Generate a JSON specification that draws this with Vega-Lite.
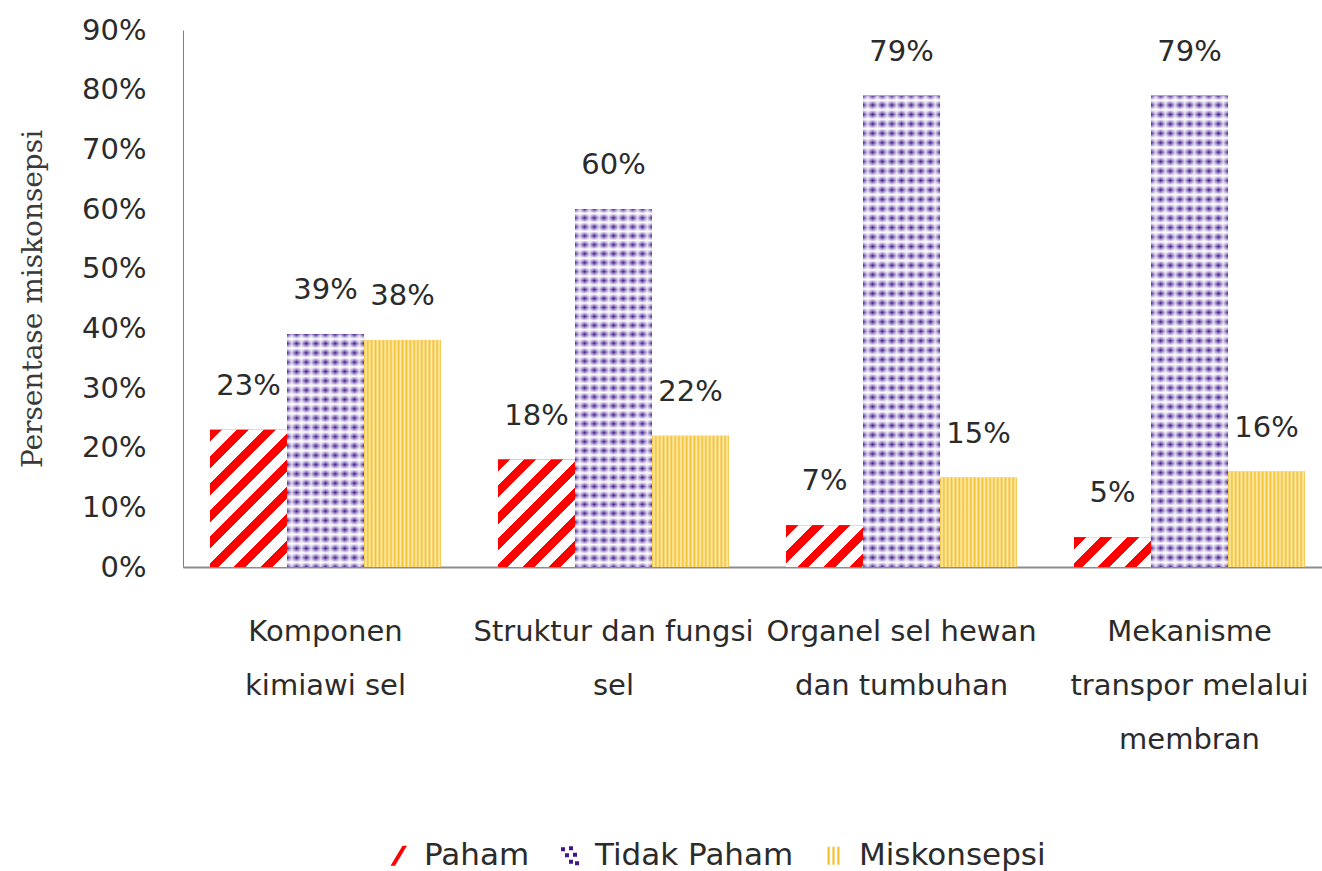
{
  "$schema": "https://vega.github.io/schema/vega-lite/v6.json",
  "width": 1139,
  "height": 537,
  "autosize": {"type": "none"},
  "padding": {"left": 183, "top": 30, "right": 0, "bottom": 304},
  "background": "white",
  "config": {"view": {"stroke": null}, "font": "DejaVu Sans"},
  "data": {"values": [
    {"kategori": "Komponen kimiawi sel", "status": "Paham", "nilai": 0.23},
    {"kategori": "Komponen kimiawi sel", "status": "Tidak Paham", "nilai": 0.39},
    {"kategori": "Komponen kimiawi sel", "status": "Miskonsepsi", "nilai": 0.38},
    {"kategori": "Struktur dan fungsi sel", "status": "Paham", "nilai": 0.18},
    {"kategori": "Struktur dan fungsi sel", "status": "Tidak Paham", "nilai": 0.60},
    {"kategori": "Struktur dan fungsi sel", "status": "Miskonsepsi", "nilai": 0.22},
    {"kategori": "Organel sel hewan dan tumbuhan", "status": "Paham", "nilai": 0.07},
    {"kategori": "Organel sel hewan dan tumbuhan", "status": "Tidak Paham", "nilai": 0.79},
    {"kategori": "Organel sel hewan dan tumbuhan", "status": "Miskonsepsi", "nilai": 0.15},
    {"kategori": "Mekanisme transpor melalui membran", "status": "Paham", "nilai": 0.05},
    {"kategori": "Mekanisme transpor melalui membran", "status": "Tidak Paham", "nilai": 0.79},
    {"kategori": "Mekanisme transpor melalui membran", "status": "Miskonsepsi", "nilai": 0.16}
  ]},
  "encoding": {
    "x": {
      "field": "kategori", "type": "nominal",
      "sort": ["Komponen kimiawi sel", "Struktur dan fungsi sel", "Organel sel hewan dan tumbuhan", "Mekanisme transpor melalui membran"],
      "scale": {"domain": ["Komponen kimiawi sel", "Struktur dan fungsi sel", "Organel sel hewan dan tumbuhan", "Mekanisme transpor melalui membran"], "paddingInner": 0.198, "paddingOuter": 0.0764, "align": 0.614},
      "axis": {
        "title": null, "ticks": false, "domainColor": "#8c8c8c", "domainWidth": 2,
        "labelFont": "DejaVu Sans", "labelFontSize": 29, "labelColor": "#2b2b2b",
        "labelPadding": 50, "labelLineHeight": 54, "labelLimit": 0, "labelOverlap": false, "labelBound": false, "labelAngle": 0,
        "labelExpr": "datum.label === 'Komponen kimiawi sel' ? ['Komponen', 'kimiawi sel'] : datum.label === 'Struktur dan fungsi sel' ? ['Struktur dan fungsi', 'sel'] : datum.label === 'Organel sel hewan dan tumbuhan' ? ['Organel sel hewan', 'dan tumbuhan'] : ['Mekanisme', 'transpor melalui', 'membran']"
      }
    },
    "xOffset": {"field": "status", "type": "nominal", "sort": ["Paham", "Tidak Paham", "Miskonsepsi"], "scale": {"domain": ["Paham", "Tidak Paham", "Miskonsepsi"]}},
    "y": {
      "field": "nilai", "type": "quantitative",
      "scale": {"domain": [0, 0.9], "nice": false},
      "axis": {
        "values": [0, 0.1, 0.2, 0.3, 0.4, 0.5, 0.6, 0.7, 0.8, 0.9], "format": ".0%",
        "grid": false, "ticks": false, "domainColor": "#7f7f7f", "domainWidth": 1,
        "labelFont": "DejaVu Sans", "labelFontSize": 29, "labelColor": "#2b2b2b", "labelPadding": 37,
        "title": "Persentase miskonsepsi", "titleFont": "DejaVu Serif", "titleFontSize": 28, "titleFontWeight": "normal", "titleColor": "#3a3a3a",
        "titleX": -150, "titleY": 268.5, "titleAngle": -90, "titleAlign": "center", "titleBaseline": "middle"
      }
    }
  },
  "layer": [
    {
      "mark": {"type": "bar"},
      "encoding": {
        "color": {
          "field": "status", "type": "nominal",
          "scale": {"domain": ["Paham", "Tidak Paham", "Miskonsepsi"], "range": ["#ff0000", "#40168f", "#f5c030"]},
          "legend": {
            "title": null, "orient": "none", "direction": "horizontal", "legendX": 200, "legendY": 810,
            "padding": 0, "columnPadding": 24, "labelOffset": 10, "symbolSize": 400, "symbolStrokeWidth": 0,
            "labelFont": "DejaVu Sans", "labelFontSize": 31, "labelColor": "#2b2b2b", "labelLimit": 0,
            "encode": {"symbols": {"update": {"shape": {"signal": "datum.value === 'Paham' ? 'M-0.8,1L0.4,-1L0.85,-1L-0.35,1Z' : datum.value === 'Tidak Paham' ? 'M-0.85,-0.85h0.4v0.4h-0.4Z M-0.05,-0.95h0.4v0.4h-0.4Z M-0.45,-0.25h0.4v0.4h-0.4Z M0.35,-0.3h0.4v0.4h-0.4Z M-0.05,0.4h0.4v0.4h-0.4Z M0.55,0.55h0.4v0.4h-0.4Z' : 'M-0.6,-0.9h0.22v1.8h-0.22Z M-0.11,-0.9h0.22v1.8h-0.22Z M0.38,-0.9h0.22v1.8h-0.22Z'"}}}}
          }
        }
      }
    },
    {
      "transform": [{"filter": "datum.status === 'Paham' && datum.kategori === 'Komponen kimiawi sel'"}],
      "mark": {"type": "bar", "color": {"gradient": "linear", "x1": 0, "y1": 0, "x2": 0.6662, "y2": 1.1873, "stops": [
        {"offset": 0, "color": "#ff0000"}, {"offset": 0.05625, "color": "#ff0000"}, {"offset": 0.05625, "color": "#ffffff"}, {"offset": 0.125, "color": "#ffffff"},
        {"offset": 0.125, "color": "#ff0000"}, {"offset": 0.18125, "color": "#ff0000"}, {"offset": 0.18125, "color": "#ffffff"}, {"offset": 0.25, "color": "#ffffff"},
        {"offset": 0.25, "color": "#ff0000"}, {"offset": 0.30625, "color": "#ff0000"}, {"offset": 0.30625, "color": "#ffffff"}, {"offset": 0.375, "color": "#ffffff"},
        {"offset": 0.375, "color": "#ff0000"}, {"offset": 0.43125, "color": "#ff0000"}, {"offset": 0.43125, "color": "#ffffff"}, {"offset": 0.5, "color": "#ffffff"},
        {"offset": 0.5, "color": "#ff0000"}, {"offset": 0.55625, "color": "#ff0000"}, {"offset": 0.55625, "color": "#ffffff"}, {"offset": 0.625, "color": "#ffffff"},
        {"offset": 0.625, "color": "#ff0000"}, {"offset": 0.68125, "color": "#ff0000"}, {"offset": 0.68125, "color": "#ffffff"}, {"offset": 0.75, "color": "#ffffff"},
        {"offset": 0.75, "color": "#ff0000"}, {"offset": 0.80625, "color": "#ff0000"}, {"offset": 0.80625, "color": "#ffffff"}, {"offset": 0.875, "color": "#ffffff"},
        {"offset": 0.875, "color": "#ff0000"}, {"offset": 0.93125, "color": "#ff0000"}, {"offset": 0.93125, "color": "#ffffff"}, {"offset": 1, "color": "#ffffff"}
      ]}}
    },
    {
      "transform": [{"filter": "datum.status === 'Paham' && datum.kategori === 'Struktur dan fungsi sel'"}],
      "mark": {"type": "bar", "color": {"gradient": "linear", "x1": 0, "y1": 0, "x2": 0.8130, "y2": 1.1340, "stops": [
        {"offset": 0, "color": "#ff0000"}, {"offset": 0.0643, "color": "#ff0000"}, {"offset": 0.0643, "color": "#ffffff"}, {"offset": 0.1429, "color": "#ffffff"},
        {"offset": 0.1429, "color": "#ff0000"}, {"offset": 0.2071, "color": "#ff0000"}, {"offset": 0.2071, "color": "#ffffff"}, {"offset": 0.2857, "color": "#ffffff"},
        {"offset": 0.2857, "color": "#ff0000"}, {"offset": 0.35, "color": "#ff0000"}, {"offset": 0.35, "color": "#ffffff"}, {"offset": 0.4286, "color": "#ffffff"},
        {"offset": 0.4286, "color": "#ff0000"}, {"offset": 0.4929, "color": "#ff0000"}, {"offset": 0.4929, "color": "#ffffff"}, {"offset": 0.5714, "color": "#ffffff"},
        {"offset": 0.5714, "color": "#ff0000"}, {"offset": 0.6357, "color": "#ff0000"}, {"offset": 0.6357, "color": "#ffffff"}, {"offset": 0.7143, "color": "#ffffff"},
        {"offset": 0.7143, "color": "#ff0000"}, {"offset": 0.7786, "color": "#ff0000"}, {"offset": 0.7786, "color": "#ffffff"}, {"offset": 0.8571, "color": "#ffffff"},
        {"offset": 0.8571, "color": "#ff0000"}, {"offset": 0.9214, "color": "#ff0000"}, {"offset": 0.9214, "color": "#ffffff"}, {"offset": 1, "color": "#ffffff"}
      ]}}
    },
    {
      "transform": [{"filter": "datum.status === 'Paham' && datum.kategori === 'Organel sel hewan dan tumbuhan'"}],
      "mark": {"type": "bar", "color": {"gradient": "linear", "x1": 0, "y1": 0, "x2": 1.1917, "y2": 0.6465, "stops": [
        {"offset": 0, "color": "#ff0000"}, {"offset": 0.1, "color": "#ff0000"}, {"offset": 0.1, "color": "#ffffff"}, {"offset": 0.2222, "color": "#ffffff"},
        {"offset": 0.2222, "color": "#ff0000"}, {"offset": 0.3222, "color": "#ff0000"}, {"offset": 0.3222, "color": "#ffffff"}, {"offset": 0.4444, "color": "#ffffff"},
        {"offset": 0.4444, "color": "#ff0000"}, {"offset": 0.5444, "color": "#ff0000"}, {"offset": 0.5444, "color": "#ffffff"}, {"offset": 0.6667, "color": "#ffffff"},
        {"offset": 0.6667, "color": "#ff0000"}, {"offset": 0.7667, "color": "#ff0000"}, {"offset": 0.7667, "color": "#ffffff"}, {"offset": 0.8889, "color": "#ffffff"},
        {"offset": 0.8889, "color": "#ff0000"}, {"offset": 0.9889, "color": "#ff0000"}, {"offset": 0.9889, "color": "#ffffff"}, {"offset": 1, "color": "#ffffff"}
      ]}}
    },
    {
      "transform": [{"filter": "datum.status === 'Paham' && datum.kategori === 'Mekanisme transpor melalui membran'"}],
      "mark": {"type": "bar", "color": {"gradient": "linear", "x1": 0, "y1": 0, "x2": 1.2063, "y2": 0.4673, "stops": [
        {"offset": 0, "color": "#ff0000"}, {"offset": 0.1125, "color": "#ff0000"}, {"offset": 0.1125, "color": "#ffffff"}, {"offset": 0.25, "color": "#ffffff"},
        {"offset": 0.25, "color": "#ff0000"}, {"offset": 0.3625, "color": "#ff0000"}, {"offset": 0.3625, "color": "#ffffff"}, {"offset": 0.5, "color": "#ffffff"},
        {"offset": 0.5, "color": "#ff0000"}, {"offset": 0.6125, "color": "#ff0000"}, {"offset": 0.6125, "color": "#ffffff"}, {"offset": 0.75, "color": "#ffffff"},
        {"offset": 0.75, "color": "#ff0000"}, {"offset": 0.8625, "color": "#ff0000"}, {"offset": 0.8625, "color": "#ffffff"}, {"offset": 1, "color": "#ffffff"}
      ]}}
    },
    {
      "transform": [{"filter": "datum.status === 'Tidak Paham' && datum.kategori === 'Komponen kimiawi sel'"}],
      "mark": {"type": "bar", "color": {"gradient": "linear", "x1": 0, "y1": 0, "x2": 0, "y2": 1, "stops": [
        {"offset": 0, "color": "#40168f"}, {"offset": 0.02, "color": "#ffffff"}, {"offset": 0.04, "color": "#40168f"}, {"offset": 0.06, "color": "#ffffff"},
        {"offset": 0.08, "color": "#40168f"}, {"offset": 0.1, "color": "#ffffff"}, {"offset": 0.12, "color": "#40168f"}, {"offset": 0.14, "color": "#ffffff"},
        {"offset": 0.16, "color": "#40168f"}, {"offset": 0.18, "color": "#ffffff"}, {"offset": 0.2, "color": "#40168f"}, {"offset": 0.22, "color": "#ffffff"},
        {"offset": 0.24, "color": "#40168f"}, {"offset": 0.26, "color": "#ffffff"}, {"offset": 0.28, "color": "#40168f"}, {"offset": 0.3, "color": "#ffffff"},
        {"offset": 0.32, "color": "#40168f"}, {"offset": 0.34, "color": "#ffffff"}, {"offset": 0.36, "color": "#40168f"}, {"offset": 0.38, "color": "#ffffff"},
        {"offset": 0.4, "color": "#40168f"}, {"offset": 0.42, "color": "#ffffff"}, {"offset": 0.44, "color": "#40168f"}, {"offset": 0.46, "color": "#ffffff"},
        {"offset": 0.48, "color": "#40168f"}, {"offset": 0.5, "color": "#ffffff"}, {"offset": 0.52, "color": "#40168f"}, {"offset": 0.54, "color": "#ffffff"},
        {"offset": 0.56, "color": "#40168f"}, {"offset": 0.58, "color": "#ffffff"}, {"offset": 0.6, "color": "#40168f"}, {"offset": 0.62, "color": "#ffffff"},
        {"offset": 0.64, "color": "#40168f"}, {"offset": 0.66, "color": "#ffffff"}, {"offset": 0.68, "color": "#40168f"}, {"offset": 0.7, "color": "#ffffff"},
        {"offset": 0.72, "color": "#40168f"}, {"offset": 0.74, "color": "#ffffff"}, {"offset": 0.76, "color": "#40168f"}, {"offset": 0.78, "color": "#ffffff"},
        {"offset": 0.8, "color": "#40168f"}, {"offset": 0.82, "color": "#ffffff"}, {"offset": 0.84, "color": "#40168f"}, {"offset": 0.86, "color": "#ffffff"},
        {"offset": 0.88, "color": "#40168f"}, {"offset": 0.9, "color": "#ffffff"}, {"offset": 0.92, "color": "#40168f"}, {"offset": 0.94, "color": "#ffffff"},
        {"offset": 0.96, "color": "#40168f"}, {"offset": 0.98, "color": "#ffffff"}, {"offset": 1, "color": "#40168f"}
      ]}}
    },
    {
      "transform": [{"filter": "datum.status === 'Tidak Paham' && datum.kategori === 'Struktur dan fungsi sel'"}],
      "mark": {"type": "bar", "color": {"gradient": "linear", "x1": 0, "y1": 0, "x2": 0, "y2": 1, "stops": [
        {"offset": 0, "color": "#40168f"}, {"offset": 0.0125, "color": "#ffffff"}, {"offset": 0.025, "color": "#40168f"}, {"offset": 0.0375, "color": "#ffffff"},
        {"offset": 0.05, "color": "#40168f"}, {"offset": 0.0625, "color": "#ffffff"}, {"offset": 0.075, "color": "#40168f"}, {"offset": 0.0875, "color": "#ffffff"},
        {"offset": 0.1, "color": "#40168f"}, {"offset": 0.1125, "color": "#ffffff"}, {"offset": 0.125, "color": "#40168f"}, {"offset": 0.1375, "color": "#ffffff"},
        {"offset": 0.15, "color": "#40168f"}, {"offset": 0.1625, "color": "#ffffff"}, {"offset": 0.175, "color": "#40168f"}, {"offset": 0.1875, "color": "#ffffff"},
        {"offset": 0.2, "color": "#40168f"}, {"offset": 0.2125, "color": "#ffffff"}, {"offset": 0.225, "color": "#40168f"}, {"offset": 0.2375, "color": "#ffffff"},
        {"offset": 0.25, "color": "#40168f"}, {"offset": 0.2625, "color": "#ffffff"}, {"offset": 0.275, "color": "#40168f"}, {"offset": 0.2875, "color": "#ffffff"},
        {"offset": 0.3, "color": "#40168f"}, {"offset": 0.3125, "color": "#ffffff"}, {"offset": 0.325, "color": "#40168f"}, {"offset": 0.3375, "color": "#ffffff"},
        {"offset": 0.35, "color": "#40168f"}, {"offset": 0.3625, "color": "#ffffff"}, {"offset": 0.375, "color": "#40168f"}, {"offset": 0.3875, "color": "#ffffff"},
        {"offset": 0.4, "color": "#40168f"}, {"offset": 0.4125, "color": "#ffffff"}, {"offset": 0.425, "color": "#40168f"}, {"offset": 0.4375, "color": "#ffffff"},
        {"offset": 0.45, "color": "#40168f"}, {"offset": 0.4625, "color": "#ffffff"}, {"offset": 0.475, "color": "#40168f"}, {"offset": 0.4875, "color": "#ffffff"},
        {"offset": 0.5, "color": "#40168f"}, {"offset": 0.5125, "color": "#ffffff"}, {"offset": 0.525, "color": "#40168f"}, {"offset": 0.5375, "color": "#ffffff"},
        {"offset": 0.55, "color": "#40168f"}, {"offset": 0.5625, "color": "#ffffff"}, {"offset": 0.575, "color": "#40168f"}, {"offset": 0.5875, "color": "#ffffff"},
        {"offset": 0.6, "color": "#40168f"}, {"offset": 0.6125, "color": "#ffffff"}, {"offset": 0.625, "color": "#40168f"}, {"offset": 0.6375, "color": "#ffffff"},
        {"offset": 0.65, "color": "#40168f"}, {"offset": 0.6625, "color": "#ffffff"}, {"offset": 0.675, "color": "#40168f"}, {"offset": 0.6875, "color": "#ffffff"},
        {"offset": 0.7, "color": "#40168f"}, {"offset": 0.7125, "color": "#ffffff"}, {"offset": 0.725, "color": "#40168f"}, {"offset": 0.7375, "color": "#ffffff"},
        {"offset": 0.75, "color": "#40168f"}, {"offset": 0.7625, "color": "#ffffff"}, {"offset": 0.775, "color": "#40168f"}, {"offset": 0.7875, "color": "#ffffff"},
        {"offset": 0.8, "color": "#40168f"}, {"offset": 0.8125, "color": "#ffffff"}, {"offset": 0.825, "color": "#40168f"}, {"offset": 0.8375, "color": "#ffffff"},
        {"offset": 0.85, "color": "#40168f"}, {"offset": 0.8625, "color": "#ffffff"}, {"offset": 0.875, "color": "#40168f"}, {"offset": 0.8875, "color": "#ffffff"},
        {"offset": 0.9, "color": "#40168f"}, {"offset": 0.9125, "color": "#ffffff"}, {"offset": 0.925, "color": "#40168f"}, {"offset": 0.9375, "color": "#ffffff"},
        {"offset": 0.95, "color": "#40168f"}, {"offset": 0.9625, "color": "#ffffff"}, {"offset": 0.975, "color": "#40168f"}, {"offset": 0.9875, "color": "#ffffff"},
        {"offset": 1, "color": "#40168f"}
      ]}}
    },
    {
      "transform": [{"filter": "datum.status === 'Tidak Paham' && (datum.kategori === 'Organel sel hewan dan tumbuhan' || datum.kategori === 'Mekanisme transpor melalui membran')"}],
      "mark": {"type": "bar", "color": {"gradient": "linear", "x1": 0, "y1": 0, "x2": 0, "y2": 1, "stops": [
        {"offset": 0, "color": "#40168f"}, {"offset": 0.01, "color": "#ffffff"}, {"offset": 0.02, "color": "#40168f"}, {"offset": 0.03, "color": "#ffffff"},
        {"offset": 0.04, "color": "#40168f"}, {"offset": 0.05, "color": "#ffffff"}, {"offset": 0.06, "color": "#40168f"}, {"offset": 0.07, "color": "#ffffff"},
        {"offset": 0.08, "color": "#40168f"}, {"offset": 0.09, "color": "#ffffff"}, {"offset": 0.1, "color": "#40168f"}, {"offset": 0.11, "color": "#ffffff"},
        {"offset": 0.12, "color": "#40168f"}, {"offset": 0.13, "color": "#ffffff"}, {"offset": 0.14, "color": "#40168f"}, {"offset": 0.15, "color": "#ffffff"},
        {"offset": 0.16, "color": "#40168f"}, {"offset": 0.17, "color": "#ffffff"}, {"offset": 0.18, "color": "#40168f"}, {"offset": 0.19, "color": "#ffffff"},
        {"offset": 0.2, "color": "#40168f"}, {"offset": 0.21, "color": "#ffffff"}, {"offset": 0.22, "color": "#40168f"}, {"offset": 0.23, "color": "#ffffff"},
        {"offset": 0.24, "color": "#40168f"}, {"offset": 0.25, "color": "#ffffff"}, {"offset": 0.26, "color": "#40168f"}, {"offset": 0.27, "color": "#ffffff"},
        {"offset": 0.28, "color": "#40168f"}, {"offset": 0.29, "color": "#ffffff"}, {"offset": 0.3, "color": "#40168f"}, {"offset": 0.31, "color": "#ffffff"},
        {"offset": 0.32, "color": "#40168f"}, {"offset": 0.33, "color": "#ffffff"}, {"offset": 0.34, "color": "#40168f"}, {"offset": 0.35, "color": "#ffffff"},
        {"offset": 0.36, "color": "#40168f"}, {"offset": 0.37, "color": "#ffffff"}, {"offset": 0.38, "color": "#40168f"}, {"offset": 0.39, "color": "#ffffff"},
        {"offset": 0.4, "color": "#40168f"}, {"offset": 0.41, "color": "#ffffff"}, {"offset": 0.42, "color": "#40168f"}, {"offset": 0.43, "color": "#ffffff"},
        {"offset": 0.44, "color": "#40168f"}, {"offset": 0.45, "color": "#ffffff"}, {"offset": 0.46, "color": "#40168f"}, {"offset": 0.47, "color": "#ffffff"},
        {"offset": 0.48, "color": "#40168f"}, {"offset": 0.49, "color": "#ffffff"}, {"offset": 0.5, "color": "#40168f"}, {"offset": 0.51, "color": "#ffffff"},
        {"offset": 0.52, "color": "#40168f"}, {"offset": 0.53, "color": "#ffffff"}, {"offset": 0.54, "color": "#40168f"}, {"offset": 0.55, "color": "#ffffff"},
        {"offset": 0.56, "color": "#40168f"}, {"offset": 0.57, "color": "#ffffff"}, {"offset": 0.58, "color": "#40168f"}, {"offset": 0.59, "color": "#ffffff"},
        {"offset": 0.6, "color": "#40168f"}, {"offset": 0.61, "color": "#ffffff"}, {"offset": 0.62, "color": "#40168f"}, {"offset": 0.63, "color": "#ffffff"},
        {"offset": 0.64, "color": "#40168f"}, {"offset": 0.65, "color": "#ffffff"}, {"offset": 0.66, "color": "#40168f"}, {"offset": 0.67, "color": "#ffffff"},
        {"offset": 0.68, "color": "#40168f"}, {"offset": 0.69, "color": "#ffffff"}, {"offset": 0.7, "color": "#40168f"}, {"offset": 0.71, "color": "#ffffff"},
        {"offset": 0.72, "color": "#40168f"}, {"offset": 0.73, "color": "#ffffff"}, {"offset": 0.74, "color": "#40168f"}, {"offset": 0.75, "color": "#ffffff"},
        {"offset": 0.76, "color": "#40168f"}, {"offset": 0.77, "color": "#ffffff"}, {"offset": 0.78, "color": "#40168f"}, {"offset": 0.79, "color": "#ffffff"},
        {"offset": 0.8, "color": "#40168f"}, {"offset": 0.81, "color": "#ffffff"}, {"offset": 0.82, "color": "#40168f"}, {"offset": 0.83, "color": "#ffffff"},
        {"offset": 0.84, "color": "#40168f"}, {"offset": 0.85, "color": "#ffffff"}, {"offset": 0.86, "color": "#40168f"}, {"offset": 0.87, "color": "#ffffff"},
        {"offset": 0.88, "color": "#40168f"}, {"offset": 0.89, "color": "#ffffff"}, {"offset": 0.9, "color": "#40168f"}, {"offset": 0.91, "color": "#ffffff"},
        {"offset": 0.92, "color": "#40168f"}, {"offset": 0.93, "color": "#ffffff"}, {"offset": 0.94, "color": "#40168f"}, {"offset": 0.95, "color": "#ffffff"},
        {"offset": 0.96, "color": "#40168f"}, {"offset": 0.97, "color": "#ffffff"}, {"offset": 0.98, "color": "#40168f"}, {"offset": 0.99, "color": "#ffffff"},
        {"offset": 1, "color": "#40168f"}
      ]}}
    },
    {
      "transform": [{"filter": "datum.status === 'Tidak Paham'"}],
      "mark": {"type": "bar", "color": {"gradient": "linear", "x1": 0, "y1": 0, "x2": 1, "y2": 0, "stops": [
        {"offset": 0, "color": "rgba(255,255,255,0)"}, {"offset": 0.0625, "color": "rgba(255,255,255,0.8)"}, {"offset": 0.125, "color": "rgba(255,255,255,0)"}, {"offset": 0.1875, "color": "rgba(255,255,255,0.8)"},
        {"offset": 0.25, "color": "rgba(255,255,255,0)"}, {"offset": 0.3125, "color": "rgba(255,255,255,0.8)"}, {"offset": 0.375, "color": "rgba(255,255,255,0)"}, {"offset": 0.4375, "color": "rgba(255,255,255,0.8)"},
        {"offset": 0.5, "color": "rgba(255,255,255,0)"}, {"offset": 0.5625, "color": "rgba(255,255,255,0.8)"}, {"offset": 0.625, "color": "rgba(255,255,255,0)"}, {"offset": 0.6875, "color": "rgba(255,255,255,0.8)"},
        {"offset": 0.75, "color": "rgba(255,255,255,0)"}, {"offset": 0.8125, "color": "rgba(255,255,255,0.8)"}, {"offset": 0.875, "color": "rgba(255,255,255,0)"}, {"offset": 0.9375, "color": "rgba(255,255,255,0.8)"},
        {"offset": 1, "color": "rgba(255,255,255,0)"}
      ]}}
    },
    {
      "transform": [{"filter": "datum.status === 'Miskonsepsi'"}],
      "mark": {"type": "bar", "color": {"gradient": "linear", "x1": 0, "y1": 0, "x2": 1, "y2": 0, "stops": [
        {"offset": 0, "color": "#f5c030"}, {"offset": 0.025, "color": "#fdeeb8"}, {"offset": 0.05, "color": "#f5c030"}, {"offset": 0.075, "color": "#fdeeb8"},
        {"offset": 0.1, "color": "#f5c030"}, {"offset": 0.125, "color": "#fdeeb8"}, {"offset": 0.15, "color": "#f5c030"}, {"offset": 0.175, "color": "#fdeeb8"},
        {"offset": 0.2, "color": "#f5c030"}, {"offset": 0.225, "color": "#fdeeb8"}, {"offset": 0.25, "color": "#f5c030"}, {"offset": 0.275, "color": "#fdeeb8"},
        {"offset": 0.3, "color": "#f5c030"}, {"offset": 0.325, "color": "#fdeeb8"}, {"offset": 0.35, "color": "#f5c030"}, {"offset": 0.375, "color": "#fdeeb8"},
        {"offset": 0.4, "color": "#f5c030"}, {"offset": 0.425, "color": "#fdeeb8"}, {"offset": 0.45, "color": "#f5c030"}, {"offset": 0.475, "color": "#fdeeb8"},
        {"offset": 0.5, "color": "#f5c030"}, {"offset": 0.525, "color": "#fdeeb8"}, {"offset": 0.55, "color": "#f5c030"}, {"offset": 0.575, "color": "#fdeeb8"},
        {"offset": 0.6, "color": "#f5c030"}, {"offset": 0.625, "color": "#fdeeb8"}, {"offset": 0.65, "color": "#f5c030"}, {"offset": 0.675, "color": "#fdeeb8"},
        {"offset": 0.7, "color": "#f5c030"}, {"offset": 0.725, "color": "#fdeeb8"}, {"offset": 0.75, "color": "#f5c030"}, {"offset": 0.775, "color": "#fdeeb8"},
        {"offset": 0.8, "color": "#f5c030"}, {"offset": 0.825, "color": "#fdeeb8"}, {"offset": 0.85, "color": "#f5c030"}, {"offset": 0.875, "color": "#fdeeb8"},
        {"offset": 0.9, "color": "#f5c030"}, {"offset": 0.925, "color": "#fdeeb8"}, {"offset": 0.95, "color": "#f5c030"}, {"offset": 0.975, "color": "#fdeeb8"},
        {"offset": 1, "color": "#f5c030"}
      ]}}
    },
    {
      "mark": {"type": "text", "baseline": "middle", "align": "center", "dy": -44, "font": "DejaVu Sans", "fontSize": 29, "color": "#2b2b2b"},
      "encoding": {"text": {"field": "nilai", "type": "quantitative", "format": ".0%"}}
    }
  ]
}
